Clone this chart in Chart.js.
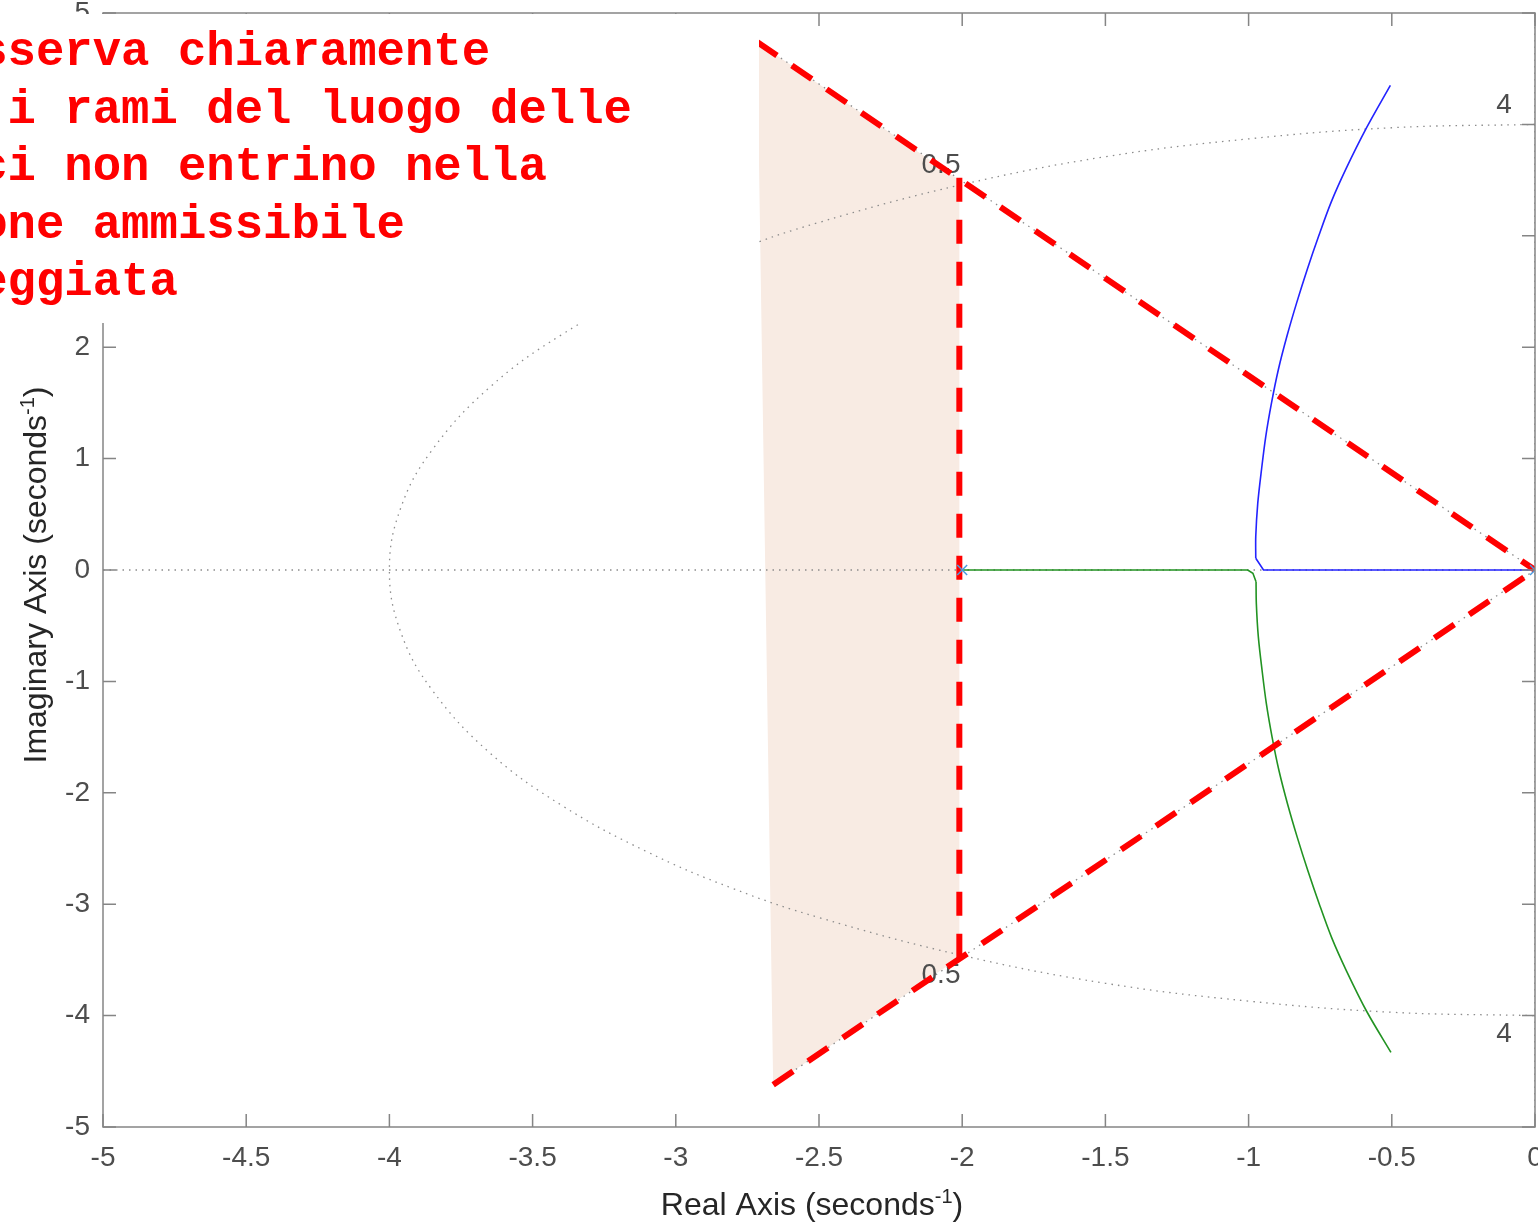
<!DOCTYPE html>
<html lang="it">
<head>
<meta charset="UTF-8">
<title>Luogo delle radici</title>
<script src="https://cdn.jsdelivr.net/npm/chart.js@4.4.0/dist/chart.umd.min.js"></script>
<style>
  html, body { margin: 0; padding: 0; background: #fff; overflow: hidden; }
  #wrap { position: relative; width: 1538px; height: 1223px; overflow: hidden; }
  #rlocus { position: absolute; left: 0; top: -40px; }
</style>
</head>
<body>
<div id="wrap"><canvas id="rlocus" width="1600" height="1263"></canvas></div>
<script>
// axis ticks
const xTicks = [-5, -4.5, -4, -3.5, -3, -2.5, -2, -1.5, -1, -0.5, 0];
const yTicks = [-5, -4, -3, -2, -1, 0, 1, 2, 3, 4, 5];

// root locus branches (real-axis part + complex part)
const blueReal = [[0, 0], [-0.948, 0], [-0.975, 0.105]];
const blueCurve = [[-0.975, 0.105], [-0.975, 0.3], [-0.968, 0.6], [-0.955, 0.9], [-0.94, 1.2],
  [-0.92, 1.5], [-0.896, 1.8], [-0.866, 2.1], [-0.832, 2.4], [-0.795, 2.7], [-0.755, 3.0],
  [-0.712, 3.3], [-0.66, 3.6], [-0.588, 3.97], [-0.505, 4.35]];
const greenReal = [[-2, 0], [-1.003, 0], [-0.985, -0.03], [-0.974, -0.105]];
const greenCurve = [[-0.974, -0.105], [-0.973, -0.3], [-0.966, -0.6], [-0.953, -0.9], [-0.938, -1.2],
  [-0.918, -1.5], [-0.894, -1.8], [-0.864, -2.1], [-0.83, -2.4], [-0.793, -2.7], [-0.753, -3.0],
  [-0.71, -3.3], [-0.658, -3.6], [-0.586, -3.97], [-0.503, -4.33]];
const poles = [[-2, 0], [0, 0]];

// sgrid: wn = 4 circle, zeta = 0.5 rays, real / imaginary axes
const wnCircle = [[0, 4], [-0.5, 3.97], [-1, 3.87], [-1.5, 3.71], [-2, 3.46], [-2.5, 3.12], [-2.8, 2.86],
  [-3.1, 2.53], [-3.4, 2.11], [-3.65, 1.64], [-3.85, 1.08], [-3.96, 0.56], [-4, 0],
  [-3.96, -0.56], [-3.85, -1.08], [-3.65, -1.64], [-3.4, -2.11], [-3.1, -2.53], [-2.8, -2.86],
  [-2.5, -3.12], [-2, -3.46], [-1.5, -3.71], [-1, -3.87], [-0.5, -3.97], [0, -4]];
const zetaUpper = [[0, 0], [-2.716, 4.74]];
const zetaLower = [[0, 0], [-2.66, -4.62]];
const realAxisGrid = [[-5, 0], [0, 0]];
const imagAxisGrid = [[0, -5], [0, 5]];
const gridLabels = [['0.5', -2.074, 3.636], ['0.5', -2.074, -3.636], ['4', -0.108, 4.17], ['4', -0.108, -4.17]];

// admissible region (shaded) and its dashed bounds
const regionShape = [[-2.716, 4.74], [-2.01, 3.5], [-2.01, -3.48], [-2.66, -4.62], [-2.716, 4.74]];
const boundUpper = [[-2.716, 4.74], [0, 0]];
const boundLower = [[-2.66, -4.62], [0, 0]];
const boundVertical = [[-2.01, 3.52], [-2.01, -3.5]];

// note text (cut at the left edge in the original)
const noteLines = ['sserva chiaramente', ' i rami del luogo delle', 'ci non entrino nella', 'one ammissibile', 'eggiata'];

const shiftY = 40; // canvas starts 40px above the page
const pts = arr => arr.map(p => ({x: p[0], y: p[1]}));
const sansFont = '"Liberation Sans", Arial, Helvetica, sans-serif';
const dotted = {borderColor: '#8c8c8c', borderWidth: 1.3, borderDash: [1.5, 5], pointRadius: 0, showLine: true, fill: false, order: 5};
const redDash = {borderColor: '#ff0000', borderWidth: 6, borderDash: [24, 18], pointRadius: 0, showLine: true, fill: false, order: 1};
const branch = {showLine: true, borderWidth: 1.6, pointRadius: 0, fill: false, order: 3};

const rlocusDecor = {
    id: 'rlocusDecor',
    afterDatasetDraw(chart, args) {
        // sgrid labels sit on top of the grid lines but under the red bounds
        if (chart.data.datasets[args.index].label !== 'wn') return;
        const ctx = chart.ctx, xs = chart.scales.x, ys = chart.scales.y;
        ctx.save();
        ctx.font = '28px ' + sansFont;
        ctx.fillStyle = '#4d4d4d';
        ctx.textAlign = 'center';
        ctx.textBaseline = 'middle';
        gridLabels.forEach(l => ctx.fillText(l[0], xs.getPixelForValue(l[1]), ys.getPixelForValue(l[2])));
        ctx.restore();
    },
    afterDatasetsDraw(chart) {
        const ctx = chart.ctx, a = chart.chartArea, xs = chart.scales.x, ys = chart.scales.y;
        const tl = 13;
        ctx.save();
        ctx.strokeStyle = '#858585';
        ctx.lineWidth = 1.5;
        ctx.strokeRect(a.left, a.top, a.right - a.left, a.bottom - a.top);
        ctx.beginPath();
        xTicks.forEach(v => {
            const px = xs.getPixelForValue(v);
            ctx.moveTo(px, a.bottom); ctx.lineTo(px, a.bottom - tl);
            ctx.moveTo(px, a.top); ctx.lineTo(px, a.top + tl);
        });
        yTicks.forEach(v => {
            const py = ys.getPixelForValue(v);
            ctx.moveTo(a.left, py); ctx.lineTo(a.left + tl, py);
            ctx.moveTo(a.right, py); ctx.lineTo(a.right - tl, py);
        });
        ctx.stroke();
        ctx.restore();
    },
    afterDraw(chart) {
        const ctx = chart.ctx;
        ctx.save();
        // axis titles with superscript
        const big = '32px ' + sansFont, small = '20px ' + sansFont;
        const drawTitle = (text) => {
            ctx.font = big;
            const w1 = ctx.measureText(text).width;
            ctx.font = small;
            const w2 = ctx.measureText('-1').width;
            ctx.font = big;
            const w3 = ctx.measureText(')').width;
            let x = -(w1 + w2 + w3) / 2;
            ctx.fillText(text, x, 0); x += w1;
            ctx.font = small; ctx.fillText('-1', x, -12); x += w2;
            ctx.font = big; ctx.fillText(')', x, 0);
        };
        ctx.fillStyle = '#262626';
        ctx.textAlign = 'left';
        ctx.textBaseline = 'alphabetic';
        ctx.save();
        ctx.translate(812, 1215 + shiftY);
        drawTitle('Real Axis (seconds');
        ctx.restore();
        ctx.save();
        ctx.translate(46, 575 + shiftY);
        ctx.rotate(-Math.PI / 2);
        drawTitle('Imaginary Axis (seconds');
        ctx.restore();

        // white note box pasted over the top-left corner
        ctx.fillStyle = '#ffffff';
        ctx.fillRect(0, 14 + shiftY, 759, 309);
        ctx.fillStyle = '#ff0000';
        ctx.font = 'bold 47.3px "Courier New", "Liberation Mono", monospace';
        ctx.textAlign = 'left';
        noteLines.forEach((line, i) => ctx.fillText(line, -20.8, 65 + shiftY + i * 57.5));
        ctx.restore();
    }
};

new Chart(document.getElementById('rlocus'), {
    type: 'scatter',
    data: {
        datasets: [
            {label: 'region', data: pts(regionShape), showLine: true, fill: 'shape',
             backgroundColor: '#f8ebe3', borderWidth: 0, pointRadius: 0, order: 6},
            Object.assign({label: 'wn', data: pts(wnCircle), tension: 0.4}, dotted),
            Object.assign({label: 'zeta+', data: pts(zetaUpper)}, dotted),
            Object.assign({label: 'zeta-', data: pts(zetaLower)}, dotted),
            Object.assign({label: 'real', data: pts(realAxisGrid)}, dotted),
            Object.assign({label: 'imag', data: pts(imagAxisGrid)}, dotted),
            Object.assign({label: 'branch 1 real', data: pts(blueReal), borderColor: '#2323ff'}, branch),
            Object.assign({label: 'branch 1', data: pts(blueCurve), borderColor: '#2323ff', tension: 0.3}, branch),
            Object.assign({label: 'branch 2 real', data: pts(greenReal), borderColor: '#229322'}, branch),
            Object.assign({label: 'branch 2', data: pts(greenCurve), borderColor: '#229322', tension: 0.3}, branch),
            {label: 'poles', data: pts(poles), showLine: false, pointStyle: 'crossRot', pointRadius: 7,
             borderColor: '#4a9be0', borderWidth: 1.5, backgroundColor: 'transparent', order: 0},
            Object.assign({label: 'bound up', data: pts(boundUpper)}, redDash),
            Object.assign({label: 'bound down', data: pts(boundLower)}, redDash),
            Object.assign({label: 'bound re', data: pts(boundVertical)}, redDash)
        ]
    },
    options: {
        responsive: false,
        animation: false,
        devicePixelRatio: 1,
        layout: {padding: {top: 13 + shiftY, right: 65, left: 0, bottom: 0}},
        plugins: {legend: {display: false}, tooltip: {enabled: false}},
        scales: {
            x: {
                type: 'linear', min: -5, max: 0,
                afterBuildTicks: s => { s.ticks = xTicks.map(v => ({value: v})); },
                afterFit: s => { s.height = 96; },
                grid: {display: false, drawTicks: false},
                border: {display: false},
                ticks: {padding: 19, color: '#4d4d4d', font: {family: sansFont, size: 28, lineHeight: 0.9},
                        maxRotation: 0, autoSkip: false, callback: v => String(v)}
            },
            y: {
                type: 'linear', min: -5, max: 5,
                afterBuildTicks: s => { s.ticks = yTicks.map(v => ({value: v})); },
                afterFit: s => { s.width = 103; },
                grid: {display: false, drawTicks: false},
                border: {display: false},
                ticks: {padding: 13, color: '#4d4d4d', font: {family: sansFont, size: 28, lineHeight: 0.9},
                        autoSkip: false, callback: v => String(v)}
            }
        }
    },
    plugins: [rlocusDecor]
});
</script>
</body>
</html>
